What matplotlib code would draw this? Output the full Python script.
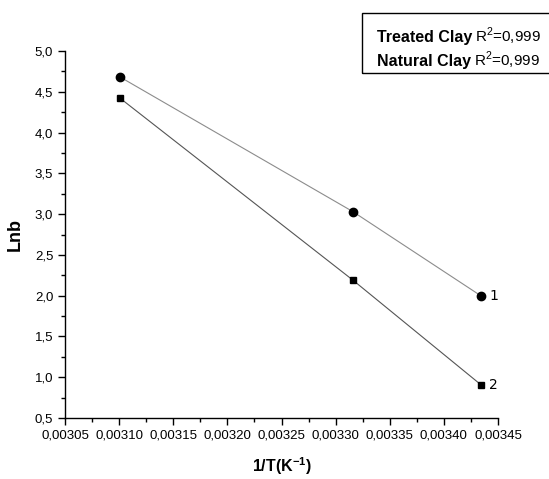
import matplotlib.pyplot as plt
from matplotlib.ticker import FuncFormatter, MultipleLocator
from matplotlib.patches import Rectangle

plt.rcParams['font.family'] = ['Liberation Sans', 'DejaVu Sans']
plt.rcParams['mathtext.fontset'] = 'custom'
plt.rcParams['mathtext.rm'] = 'Liberation Sans'
plt.rcParams['mathtext.bf'] = 'Liberation Sans:bold'

# data
inv_T = [0.003101, 0.003316, 0.003434]
treated = [4.68, 3.03, 2.00]
natural = [4.42, 2.19, 0.91]
series_labels = ['1', '2']
legend_names = ['Treated Clay', 'Natural Clay']
legend_r2 = ['R$^2$=0,999', 'R$^2$=0,999']

W, H = 549, 479
fig = plt.figure(figsize=(W / 100, H / 100), dpi=100)
ax = fig.add_axes([65 / W, 1 - 418 / H, 433 / W, 367 / H])

ax.plot(inv_T, treated, color='#8c8c8c', lw=0.8, marker='o', ms=6,
        mfc='black', mec='black')
ax.plot(inv_T, natural, color='#555555', lw=0.8, marker='s', ms=5,
        mfc='black', mec='black')
ax.text(inv_T[-1] + 0.000008, treated[-1], series_labels[0], fontsize=10,
        family='DejaVu Sans', va='center')
ax.text(inv_T[-1] + 0.000008, natural[-1], series_labels[1], fontsize=10,
        family='DejaVu Sans', va='center')

ax.set_xlim(0.00305, 0.00345)
ax.set_ylim(0.5, 5.0)
ax.xaxis.set_major_locator(MultipleLocator(0.00005))
ax.xaxis.set_minor_locator(MultipleLocator(0.000025))
ax.yaxis.set_major_locator(MultipleLocator(0.5))
ax.yaxis.set_minor_locator(MultipleLocator(0.25))
ax.xaxis.set_major_formatter(FuncFormatter(lambda v, p: f'{v:.5f}'.replace('.', ',')))
ax.yaxis.set_major_formatter(FuncFormatter(lambda v, p: f'{v:.1f}'.replace('.', ',')))
ax.tick_params(which='major', direction='out', length=5, width=1, labelsize=9.5)
ax.tick_params(which='minor', direction='out', length=3, width=1)
for s in ['top', 'right']:
    ax.spines[s].set_visible(False)
for s in ['left', 'bottom']:
    ax.spines[s].set_linewidth(1)

ax.set_xlabel(r'$\mathbf{1/T(K^{-1})}$', fontsize=11.5, labelpad=10)
ax.set_ylabel('Lnb', fontsize=13, fontweight='bold', labelpad=8)

# legend box at top right (runs off the right edge)
fig.patches.append(Rectangle((362 / W, 1 - 73 / H), 200 / W, 60 / H,
                             transform=fig.transFigure, fill=False,
                             ec='black', lw=1))
renderer = fig.canvas.get_renderer()
for i, base in enumerate([42, 66]):
    t = fig.text(377 / W, 1 - base / H, legend_names[i], fontsize=11.5,
                 fontweight='bold', va='baseline')
    bb = t.get_window_extent(renderer)
    fig.text((bb.x1 + 3) / W, 1 - base / H, legend_r2[i], fontsize=11,
             va='baseline')

fig.savefig('out.png', dpi=100)
